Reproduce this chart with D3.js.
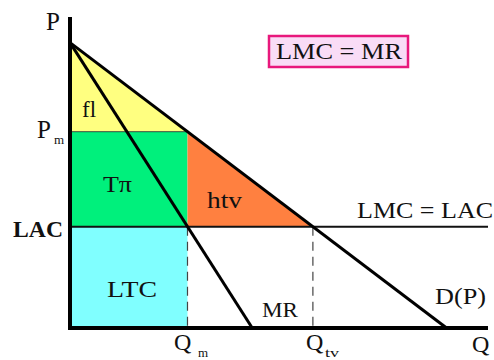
<!DOCTYPE html>
<html>
<head>
<meta charset="utf-8">
<script src="https://cdn.jsdelivr.net/npm/d3@7"></script>
<style>
  html, body { margin: 0; padding: 0; background: #fff; }
  svg { display: block; }
</style>
</head>
<body>
<svg id="chart" width="494" height="360"></svg>
<script>
// Monopoly vs. perfect competition: demand, marginal revenue and long-run cost
const demandLine = [{ q: 0, p: 10 }, { q: 10, p: 0 }];
const mrLine = [{ q: 0, p: 10 }, { q: 4.84, p: 0 }];
const lacLevel = 3.55;      // LMC = LAC
const monopolyQ = 3.12;     // Q_m, where LMC = MR
const monopolyP = 6.88;
const competitiveQ = 6.45;  // Q_tv, where demand meets LAC
const axisMax = { q: 11.1, p: 10.9 };

const serif = "'Liberation Serif', 'Times New Roman', Times, 'DejaVu Serif', serif";

const svg = d3.select("#chart");
const x = d3.scaleLinear().domain([0, axisMax.q]).range([70, 488]);
const y = d3.scaleLinear().domain([0, axisMax.p]).range([328, 17]);
const line = d3.line().x(d => x(d.q)).y(d => y(d.p));

// Shaded areas
const areas = [
  { fill: "#ffff80", pts: [{ q: 0, p: demandLine[0].p }, { q: 0, p: monopolyP }, { q: monopolyQ, p: monopolyP }] },
  { fill: "#00f07c", pts: [{ q: 0, p: monopolyP }, { q: monopolyQ, p: monopolyP }, { q: monopolyQ, p: lacLevel }, { q: 0, p: lacLevel }] },
  { fill: "#ff8040", pts: [{ q: monopolyQ, p: monopolyP }, { q: monopolyQ, p: lacLevel }, { q: competitiveQ, p: lacLevel }] },
  { fill: "#80ffff", pts: [{ q: 0, p: lacLevel }, { q: monopolyQ, p: lacLevel }, { q: monopolyQ, p: 0 }, { q: 0, p: 0 }] }
];
svg.selectAll("path.area").data(areas).join("path")
  .attr("class", "area")
  .attr("d", d => line(d.pts) + "Z")
  .attr("fill", d => d.fill);

// Dashed drop lines to the quantity axis
[monopolyQ, competitiveQ].forEach(q => {
  svg.append("line")
    .attr("x1", x(q)).attr("x2", x(q))
    .attr("y1", y(lacLevel)).attr("y2", y(0))
    .attr("stroke", "#444").attr("stroke-width", 1.2)
    .attr("stroke-dasharray", "9,6");
});

// LMC = LAC
svg.append("line")
  .attr("x1", x(0)).attr("x2", x(axisMax.q))
  .attr("y1", y(lacLevel)).attr("y2", y(lacLevel))
  .attr("stroke", "#111").attr("stroke-width", 2);

// Boundary of monopoly price
svg.append("line")
  .attr("x1", x(0)).attr("x2", x(monopolyQ))
  .attr("y1", y(monopolyP)).attr("y2", y(monopolyP))
  .attr("stroke", "#222").attr("stroke-width", 0.8);

// Demand and MR
[demandLine, mrLine].forEach(d => {
  svg.append("path").attr("d", line(d))
    .attr("fill", "none").attr("stroke", "#000").attr("stroke-width", 3);
});

// Axes
svg.append("path")
  .attr("d", `M${x(0)},${y(axisMax.p)}V${y(0)}H${x(axisMax.q)}`)
  .attr("fill", "none").attr("stroke", "#000").attr("stroke-width", 4);

// Text labels; multi-letter labels get a fixed width
function label(tx, ty, str, size, len, weight) {
  const t = svg.append("text")
    .attr("x", tx).attr("y", ty)
    .attr("font-family", serif)
    .attr("fill", "#111")
    .attr("font-size", size)
    .text(str);
  if (len) t.attr("textLength", len).attr("lengthAdjust", "spacingAndGlyphs");
  if (weight) t.attr("font-weight", weight);
  return t;
}

label(46, 30, "P", 25);
label(37, 138, "P", 25);
label(54, 144, "m", 13);
label(13, 237, "LAC", 24, 50, "bold");
label(174, 350, "Q", 24);
label(198, 357, "m", 13);
label(306, 350, "Q", 24);
label(325, 357, "tv", 13, 14);
label(472, 352, "Q", 24);

label(82, 117, "fl", 23);
label(103, 192, "T\u03c0", 23, 29);
label(207, 208, "htv", 23, 35);
label(107, 297, "LTC", 24, 50);
label(262, 317, "MR", 21, 36);
label(435, 304, "D(P)", 23, 51);
label(357, 218, "LMC = LAC", 23, 136);

// LMC = MR box
svg.append("rect")
  .attr("x", 269).attr("y", 36).attr("width", 139).attr("height", 31)
  .attr("fill", "#f9dcf6").attr("stroke", "#e8187c").attr("stroke-width", 2.5);
label(276, 59, "LMC = MR", 23, 126);
</script>
</body>
</html>
